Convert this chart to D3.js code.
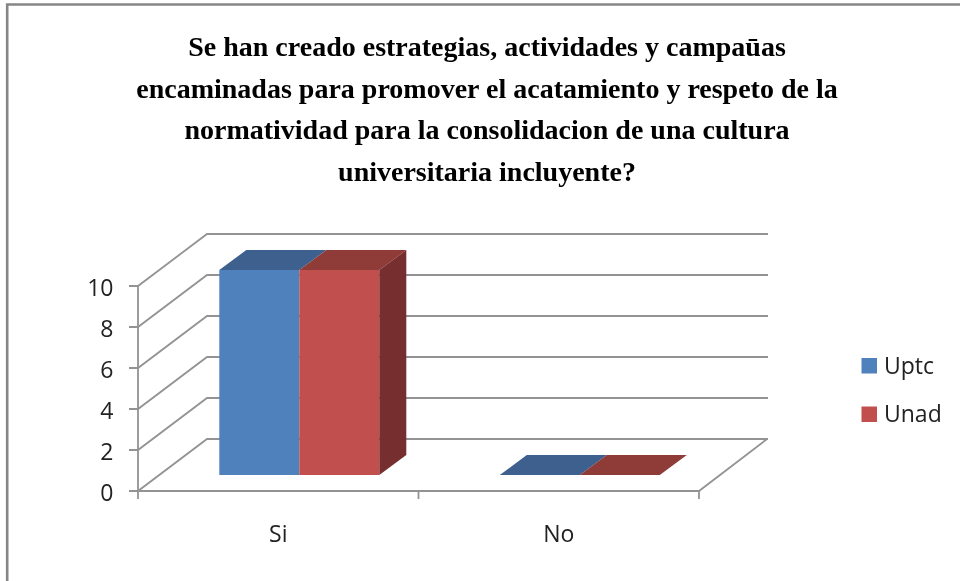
<!DOCTYPE html>
<html><head><meta charset="utf-8">
<script src="https://cdn.jsdelivr.net/npm/d3@7/dist/d3.min.js"></script>
<style>html,body{margin:0;padding:0;background:#fff;overflow:hidden}svg{display:block}</style>
</head><body><div id="chart"></div>
<script>
const titleLines = ["Se han creado estrategias, actividades y campaūas","encaminadas para promover el acatamiento y respeto de la","normatividad para la consolidacion de una cultura","universitaria incluyente?"];
const categories = ["Si","No"];
const seriesNames = ["Uptc","Unad"];
const uptcValues = [10,0];
const unadValues = [10,0];
const yTicks = [0,2,4,6,8,10];
const seriesColors = {Uptc:{front:"#4f81bd",top:"#3c618f"},Unad:{front:"#c0504d",top:"#8f3b39",side:"#772f2e"}};
const seriesValues = {Uptc:uptcValues,Unad:unadValues};

const svg = d3.select("#chart").append("svg").attr("width",960).attr("height",581);
const soft = svg.append("defs").append("filter").attr("id","soft");
soft.append("feGaussianBlur").attr("stdDeviation",0.45);
const root = svg.append("g").attr("filter","url(#soft)");
root.append("rect").attr("width",960).attr("height",581).attr("fill","#fff");
root.append("path").attr("d","M7.2,581V4.5H960").attr("fill","none").attr("stroke","#868686").attr("stroke-width",2.6);

const wallDX=69, wallDY=52, barDX=27, barDY=20, floorDY=16;
const y = d3.scaleLinear().domain([0,10]).range([491,286]);
const x = d3.scaleBand().domain(categories).range([138,699]);
const inner = d3.scaleBand().domain(seriesNames).range([0,160]);
const grid = "#939393";

const g = root.append("g").attr("fill","none").attr("stroke",grid).attr("stroke-width",1.8);
yTicks.forEach(t=>{
  const p=y(t);
  g.append("path").attr("d",d3.line()([[129,p],[138,p],[138+wallDX,p-wallDY],[699+wallDX,p-wallDY]]));
});
g.append("path").attr("d",d3.line()([[138,y(10)],[138,y(0)],[699,y(0)],[699+wallDX-1,y(0)-wallDY]]));
x.domain().concat("end").forEach((c,i)=>{
  const px = c==="end"?x.range()[1]:x(c);
  g.append("line").attr("x1",px).attr("x2",px).attr("y1",y(0)).attr("y2",y(0)+8);
});

const barLeft = c => x(c)+81.3;
const front = y(0)-floorDY;
categories.forEach((c,ci)=>{
  seriesNames.forEach((s,si)=>{
    const v=seriesValues[s][ci], x0=barLeft(c)+inner(s), w=inner.bandwidth();
    const top=front-(y(0)-y(v));
    const col=seriesColors[s];
    if(v>0) root.append("rect").attr("x",x0).attr("y",top).attr("width",w).attr("height",front-top).attr("fill",col.front);
    root.append("path").attr("fill",col.top).attr("d",d3.line()([[x0,top],[x0+barDX,top-barDY],[x0+w+barDX,top-barDY],[x0+w,top]])+"Z");
    if(v>0 && si===seriesNames.length-1) root.append("path").attr("fill",col.side).attr("d",d3.line()([[x0+w,top],[x0+w+barDX,top-barDY],[x0+w+barDX,front-barDY],[x0+w,front]])+"Z");
  });
});

const axisFont='"Open Sans",sans-serif';
const tg=root.append("g").attr("font-family",axisFont).attr("font-size",23).attr("fill","#222");
yTicks.forEach(t=>tg.append("text").attr("x",113.5).attr("y",y(t)+1.5).attr("dy","0.36em").attr("text-anchor","end").text(t));
categories.forEach(c=>tg.append("text").attr("x",x(c)+x.bandwidth()/2).attr("y",541.7).attr("text-anchor","middle").text(c));

seriesNames.forEach((s,i)=>{
  const py=358+i*48.5;
  root.append("rect").attr("x",861.5).attr("y",py).attr("width",15.5).attr("height",15.5).attr("fill",seriesColors[s].front);
  tg.append("text").attr("x",884).attr("y",py+15.6).text(s);
});

root.append("g").attr("font-family",'"Liberation Serif",serif').attr("font-weight","bold").attr("font-size",28).attr("fill","#000").attr("text-anchor","middle")
 .selectAll("text").data(titleLines).join("text").attr("x",487).attr("y",(d,i)=>56+i*41.7).text(d=>d);
</script></body></html>
